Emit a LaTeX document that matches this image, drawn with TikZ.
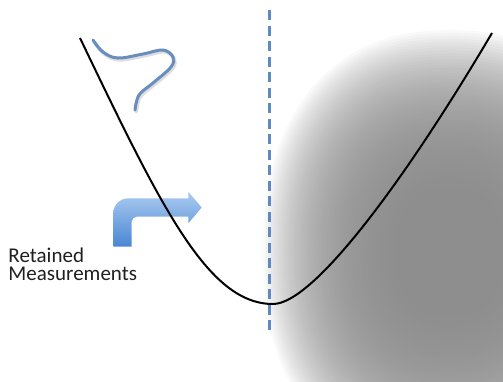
\documentclass[tikz,border=0pt]{standalone}
\usepackage{fontspec}
\setmainfont{Carlito}
\usepackage{xcolor}
\usepackage{tikz}
\usetikzlibrary{positioning,calc}

\definecolor{dashblue}{RGB}{94,138,194}
\definecolor{wigblue}{RGB}{104,142,192}
\definecolor{arrtop}{RGB}{172,203,240}
\definecolor{arrbot}{RGB}{72,134,212}

\begin{document}
\begin{tikzpicture}[x=1pt,y=-1pt]
\useasboundingbox (0,0) rectangle (503,381);
\clip (0,0) rectangle (503,381);
% soft grey blob (stacked rounded shapes)
\foreach \k in {0,...,54}{
  \pgfmathsetmacro{\s}{1-0.013*\k}
  \fill[black!47,opacity=0.05] plot[domain=0.5:355.5,samples=72,variable=\t]
    ({450+\s*187*cos(\t)*abs(cos(\t))^(-0.13)},{252+\s*222*sin(\t)*abs(sin(\t))^(-0.13)}) -- cycle;
}
% bent arrow
\shade[top color=arrtop,bottom color=arrbot]
  (113.3,246.7) -- (113.3,213.3) .. controls (113.3,205) and (120,198.3) .. (128.3,198.3)
  -- (188.3,198.3) -- (188.3,191.7) -- (201.7,207.5) -- (188.3,223.3) -- (188.3,216.7)
  -- (136.7,216.7) .. controls (133.9,216.7) and (131.7,218.9) .. (131.7,221.7) -- (131.7,246.7) -- cycle;
% curve
\draw[black,line width=2pt] (80,38) .. controls (161.6,208) and (208,304) .. (273,304)
  .. controls (313,304) and (403.5,183) .. (492,33);
% dashed vertical
\draw[dashblue,line width=2.6pt,dash pattern=on 10pt off 5.5pt] (269.3,10) -- (269.3,332);
% squiggle
\draw[gray!45,opacity=0.6,line width=3.6pt,line cap=round,smooth,tension=0.6,shift={(1.2,1.8)}]
  plot coordinates {(93,40) (103,52) (118,58) (143,54) (163,50) (173,57) (171,67) (153,83) (139,95) (135,110)};
\draw[wigblue,line width=3pt,line cap=round,smooth,tension=0.6]
  plot coordinates {(93,40) (103,52) (118,58) (143,54) (163,50) (173,57) (171,67) (153,83) (139,95) (135,110)};
% label
\node[anchor=base west,align=left,inner sep=0,font=\fontsize{21}{17.3}\selectfont,text=black!88] (lbl) at (8.3,280) {Retained\\Measurements};
\end{tikzpicture}
\end{document}
